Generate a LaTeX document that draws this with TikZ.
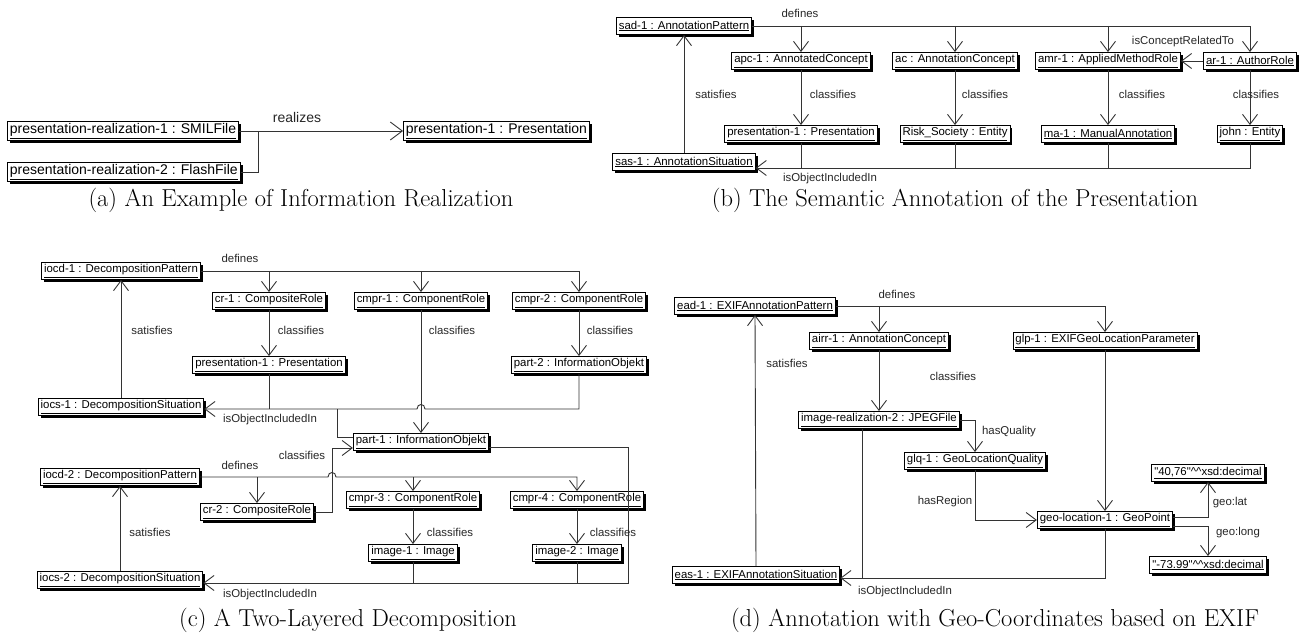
\documentclass[tikz,border=0pt]{standalone}
\usepackage{fontspec}
\newfontfamily\umlfont{Liberation Sans}
\usetikzlibrary{arrows.meta,shadows}

\tikzset{
  obj/.style={draw=black, fill=white, line width=0.9pt, inner xsep=2.5pt, inner ysep=2pt,
    minimum height=17pt, font=\umlfont\fontsize{11.4pt}{13pt}\selectfont,
    drop shadow={shadow xshift=2.5pt, shadow yshift=-2.5pt, opacity=1, fill=black}},
  bigobj/.style={obj, minimum height=19pt, font=\umlfont\fontsize{14pt}{16pt}\selectfont},
  rel/.style={draw=black!80, line width=0.9pt},
  relto/.style={rel, -{Straight Barb[length=10pt,width=15pt]}},
  bigrelto/.style={rel, -{Straight Barb[length=12pt,width=18pt]}},
  lbl/.style={font=\umlfont\fontsize{11.4pt}{13pt}\selectfont, text=black!85, inner sep=1pt},
  biglbl/.style={lbl, font=\umlfont\fontsize{14pt}{16pt}\selectfont},
  capt/.style={font=\fontsize{24.5pt}{28pt}\selectfont, anchor=base, inner sep=0pt}
}

\begin{document}
\begin{tikzpicture}[x=1pt,y=-1pt]
\useasboundingbox (0,0) rectangle (1307,639);

%%% (a) information realization
\node[bigobj, anchor=west] (rz1) at (7,131) {\underline{presentation-realization-1 : SMILFile}};
\node[bigobj, anchor=west] (rz2) at (7,172) {\underline{presentation-realization-2 : FlashFile}};
\node[bigobj, anchor=west] (pa) at (403,131) {\underline{presentation-1 : Presentation}};
\coordinate (ja) at (258,131);
\draw[bigrelto] (rz1.east) -- (pa.west);
\draw[rel] (rz2.east) -| (ja);
% Text Node
\node[biglbl] (lrealizes) at (297,117) {realizes};
\node[capt] (capa) at (301,207) {(a) An Example of Information Realization};

%%% (b) semantic annotation
\node[obj] (sad) at (684,26) {\underline{sad-1 : AnnotationPattern}};
\node[obj] (apc) at (801,61) {\underline{apc-1 : AnnotatedConcept}};
\node[obj] (ac) at (955,61) {\underline{ac : AnnotationConcept}};
\node[obj] (amr) at (1108,61) {\underline{amr-1 : AppliedMethodRole}};
\node[obj] (ar) at (1250,61) {\underline{ar-1 : AuthorRole}};
\node[obj] (pb) at (801,134) {\underline{presentation-1 : Presentation}};
\node[obj] (risk) at (955,134) {\underline{Risk\_Society : Entity}};
\node[obj] (ma) at (1108,134) {\underline{ma-1 : ManualAnnotation}};
\node[obj] (john) at (1250,134) {\underline{john : Entity}};
\node[obj] (sas) at (684,162) {\underline{sas-1 : AnnotationSituation}};
% defines
\draw[relto] (sad.east) -| (ar.north);
\draw[relto] (apc.north |- sad.east) -- (apc.north);
\draw[relto] (ac.north |- sad.east) -- (ac.north);
\draw[relto] (amr.north |- sad.east) -- (amr.north);
\draw[relto] (ar.west) -- (amr.east);
% classifies
\draw[relto] (apc.south) -- (pb.north);
\draw[relto] (ac.south) -- (risk.north);
\draw[relto] (amr.south) -- (ma.north);
\draw[relto] (ar.south) -- (john.north);
% isObjectIncludedIn
\coordinate (bb) at (1250,168);
\draw[relto] (john.south) -- (bb) -- (sas.east |- bb);
\draw[rel] (pb.south) -- (pb.south |- bb);
\draw[rel] (risk.south) -- (risk.south |- bb);
\draw[rel] (ma.south) -- (ma.south |- bb);
\draw[relto] (sas.north) -- (sad.south);
% Text Node
\node[lbl] (ldefb) at (800,13) {defines};
\node[lbl] (lrelb) at (1183,42) {isConceptRelatedTo};
\node[lbl] (lsatb) at (716,94) {satisfies};
\node[lbl] (lclb1) at (833,94) {classifies};
\node[lbl] (lclb2) at (985,94) {classifies};
\node[lbl] (lclb3) at (1142,94) {classifies};
\node[lbl] (lclb4) at (1256,94) {classifies};
\node[lbl] (linb) at (830,179) {isObjectIncludedIn};
\node[capt] (capb) at (955,207) {(b) The Semantic Annotation of the Presentation};

%%% (c) two-layered decomposition
\node[obj] (iocd1) at (121,271) {\underline{iocd-1 : DecompositionPattern}};
\node[obj] (cr1) at (269,301) {\underline{cr-1 : CompositeRole}};
\node[obj] (cmpr1) at (421,301) {\underline{cmpr-1 : ComponentRole}};
\node[obj] (cmpr2) at (579,301) {\underline{cmpr-2 : ComponentRole}};
\node[obj] (pc) at (269,365) {\underline{presentation-1 : Presentation}};
\node[obj] (part2) at (579,365) {\underline{part-2 : InformationObjekt}};
\node[obj] (iocs1) at (121,407) {\underline{iocs-1 : DecompositionSituation}};
\node[obj] (part1) at (421,442) {\underline{part-1 : InformationObjekt}};
\node[obj] (iocd2) at (120,477) {\underline{iocd-2 : DecompositionPattern}};
\node[obj] (cr2) at (257,512) {\underline{cr-2 : CompositeRole}};
\node[obj] (cmpr3) at (413,500) {\underline{cmpr-3 : ComponentRole}};
\node[obj] (cmpr4) at (577,500) {\underline{cmpr-4 : ComponentRole}};
\node[obj] (img1) at (413,553) {\underline{image-1 : Image}};
\node[obj] (img2) at (577,553) {\underline{image-2 : Image}};
\node[obj] (iocs2) at (120,580) {\underline{iocs-2 : DecompositionSituation}};
% upper layer
\draw[relto] (iocd1.east) -| (cmpr2.north);
\draw[relto] (cr1.north |- iocd1.east) -- (cr1.north);
\draw[relto] (cmpr1.north |- iocd1.east) -- (cmpr1.north);
\draw[relto] (cr1.south) -- (pc.north);
\draw[relto] (cmpr1.south) -- (part1.north);
\draw[relto] (cmpr2.south) -- (part2.north);
\draw[relto] (iocs1.north) -- (iocd1.south);
\coordinate (c1) at (579,409);
\coordinate (hop1) at (421,409);
\coordinate (c1j) at (337,409);
\draw[relto] (part2.south) -- (c1) -- ([xshift=4pt]hop1) .. controls +(0,-6) and +(0,-6) .. ([xshift=-4pt]hop1) -- (iocs1.east |- c1);
\draw[rel] (pc.south) -- (pc.south |- c1);
\draw[rel] ([yshift=5pt]part1.west) -| (c1j);
% lower layer
\coordinate (hop2) at (332,477);
\coordinate (p1in) at ([yshift=-6pt]part1.west);
\draw[relto] (cr2.east) -| (hop2 |- p1in) -- (p1in);
\draw[relto] (iocd2.east) -- ([xshift=-4pt]hop2) .. controls +(0,-6) and +(0,-6) .. ([xshift=4pt]hop2) -| (cmpr4.north);
\draw[relto] (cr2.north |- iocd2.east) -- (cr2.north);
\draw[relto] (cmpr3.north |- iocd2.east) -- (cmpr3.north);
\draw[relto] (cmpr3.south) -- (img1.north);
\draw[relto] (cmpr4.south) -- (img2.north);
\draw[relto] (iocs2.north) -- (iocd2.south);
\coordinate (c2) at (628,583);
\draw[relto] ([yshift=-5pt]part1.east) -| (c2) -- (iocs2.east |- c2);
\draw[rel] (img1.south) -- (img1.south |- c2);
\draw[rel] (img2.south) -- (img2.south |- c2);
% Text Node
\node[lbl] (ldefc1) at (240,258) {defines};
\node[lbl] (lsatc1) at (152,330) {satisfies};
\node[lbl] (lclc1) at (301,330) {classifies};
\node[lbl] (lclc2) at (452,330) {classifies};
\node[lbl] (lclc3) at (610,330) {classifies};
\node[lbl] (linc1) at (270,420) {isObjectIncludedIn};
\node[lbl] (lclc4) at (302,455) {classifies};
\node[lbl] (ldefc2) at (240,465) {defines};
\node[lbl] (lsatc2) at (150,532) {satisfies};
\node[lbl] (lclc5) at (450,532) {classifies};
\node[lbl] (lclc6) at (613,532) {classifies};
\node[lbl] (linc2) at (270,595) {isObjectIncludedIn};
\node[capt] (capc) at (348,626) {(c) A Two-Layered Decomposition};

%%% (d) geo-coordinates from EXIF
\node[obj] (ead) at (755,306) {\underline{ead-1 : EXIFAnnotationPattern}};
\node[obj] (airr) at (879,341) {\underline{airr-1 : AnnotationConcept}};
\node[obj] (glp) at (1105,341) {\underline{glp-1 : EXIFGeoLocationParameter}};
\node[obj] (ir2) at (879,420) {\underline{image-realization-2 : JPEGFile}};
\node[obj] (glq) at (975,461) {\underline{glq-1 : GeoLocationQuality}};
\node[obj] (geo) at (1105,520) {\underline{geo-location-1 : GeoPoint}};
\node[obj] (lat) at (1208,473) {\underline{"40,76"\textasciicircum\textasciicircum xsd:decimal}};
\node[obj] (long) at (1208,565) {\underline{"-73.99"\textasciicircum\textasciicircum xsd:decimal}};
\node[obj] (eas) at (756,575) {\underline{eas-1 : EXIFAnnotationSituation}};
\draw[relto] (ead.east) -| (glp.north);
\draw[relto] (airr.north |- ead.east) -- (airr.north);
\draw[relto] (airr.south) -- (ir2.north);
\draw[relto] (ir2.east) -| (glq.north);
\draw[relto] (glq.south) |- (geo.west);
\draw[relto] (glp.south) -- (geo.north);
\draw[relto] ([yshift=3pt]geo.east) -| (lat.south);
\draw[relto] ([yshift=-6pt]geo.east) -| (long.north);
\draw[relto] (eas.north) -- (ead.south);
\coordinate (d1) at (1105,578);
\draw[relto] (geo.south) -- (d1) -- (eas.east |- d1);
\draw[rel] ([xshift=-17pt]ir2.south) -- ([xshift=-17pt]ir2.south |- d1);
% Text Node
\node[lbl] (ldefd) at (897,294) {defines};
\node[lbl] (lsatd) at (787,363) {satisfies};
\node[lbl] (lcld) at (953,376) {classifies};
\node[lbl] (lqual) at (1009,432) {hasQuality};
\node[lbl] (lreg) at (945,502) {hasRegion};
\node[lbl] (llat) at (1230,503) {geo:lat};
\node[lbl] (llong) at (1238,533) {geo:long};
\node[lbl] (lind) at (905,592) {isObjectIncludedIn};
\node[capt] (capd) at (995,626) {(d) Annotation with Geo-Coordinates based on EXIF};
\end{tikzpicture}
\end{document}
